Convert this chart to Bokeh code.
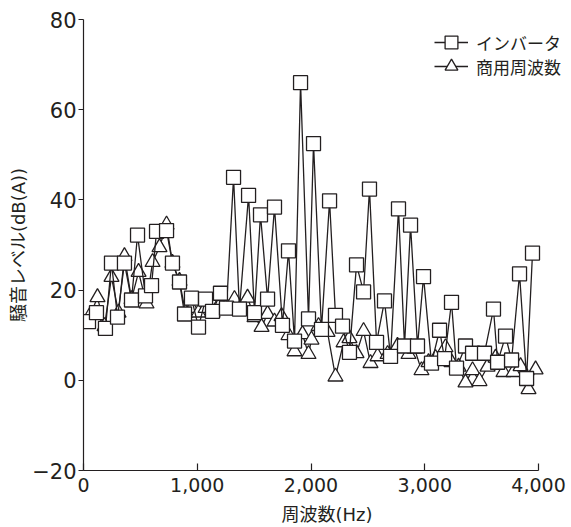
from bokeh.plotting import figure
from bokeh.models import Legend, LegendItem, FixedTicker, Range1d
from bokeh.embed import file_html
from bokeh.resources import INLINE

# インバータ (squares)
inv_hz = [44, 114, 193, 246, 299, 360, 422, 475, 545, 598, 642, 730, 782, 844, 888,
          949, 1011, 1073, 1134, 1204, 1257, 1319, 1371, 1451, 1503, 1556, 1618, 1679,
          1749, 1802, 1855, 1908, 1978, 2022, 2092, 2163, 2215, 2277, 2338, 2400, 2462,
          2514, 2576, 2646, 2699, 2769, 2822, 2875, 2936, 2989, 3059, 3130, 3174, 3235,
          3279, 3358, 3420, 3525, 3604, 3640, 3710, 3763, 3833, 3895, 3947]
inv_db = [13, 15, 11.5, 26, 14, 26, 17.8, 32.2, 18.7, 21, 33, 33.2, 26, 21.8, 14.7,
          18.2, 11.8, 18, 15.3, 19.3, 16, 45, 15.8, 41, 15, 36.7, 18, 38.4,
          12.2, 28.7, 8.7, 66, 13.6, 52.5, 11.3, 39.8, 14.4, 12, 6.2, 25.6, 19.6,
          42.4, 8.4, 17.6, 5.3, 38, 7.6, 34.4, 7.6, 23, 3.8, 11.1, 4.8, 17.3,
          2.7, 7.6, 6, 6, 15.8, 4, 9.8, 4.5, 23.6, 0.4, 28.2]

# 商用周波数 (triangles)
com_hz = [60, 123, 185, 246, 308, 360, 422, 484, 554, 607, 668, 730, 782, 844, 897,
          949, 1011, 1073, 1134, 1196, 1257, 1327, 1380, 1442, 1503, 1565, 1618, 1679,
          1741, 1802, 1855, 1925, 1978, 2004, 2066, 2145, 2215, 2286, 2338, 2400, 2462,
          2523, 2585, 2673, 2760, 2857, 2910, 2971, 3033, 3095, 3182, 3235, 3297, 3358,
          3420, 3481, 3552, 3622, 3692, 3780, 3842, 3912, 3974]
com_db = [14.5, 18.4, 12, 22.9, 15, 27.5, 18, 24, 17, 26.2, 29.5, 34.5, 26, 22, 15,
          16, 15, 16, 15, 17, 16.5, 18, 16, 18.3, 14, 11.8, 14.7, 13,
          14.2, 10, 6.4, 10.2, 5.8, 9, 12, 10.7, 0.8, 8.4, 9.3, 6, 10.9,
          3.8, 5.3, 5.8, 7.6, 5.8, 7, 2.2, 4, 4.9, 7.3, 4, 3, -0.5,
          2.2, -0.2, 3, 5, 1.8, 1.8, 3.1, -2, 2.4]

x_ticks = [0, 1000, 2000, 3000, 4000]
x_tick_labels = ["0", "1,000", "2,000", "3,000", "4,000"]
y_ticks = [-20, 0, 20, 40, 60, 80]
y_tick_labels = ["\u221220", "0", "20", "40", "60", "80"]

NUM_FONT = "DejaVu Sans"
MIX_FONT = "'DejaVu Sans', 'Noto Sans CJK JP'"
JP_FONT = "Noto Sans CJK JP"
INK = "#231f20"

# frame spans 83..570 px; 0..4000 Hz occupies 83..538 px, the rest leaves room for the legend
p = figure(width=570, height=527, x_range=Range1d(0, 4281), y_range=Range1d(-20, 80),
           output_backend="svg", toolbar_location=None,
           min_border_left=83, min_border_right=0, min_border_top=19, min_border_bottom=57)
p.outline_line_color = None
p.grid.visible = False
p.background_fill_color = "white"
p.border_fill_color = "white"

# axes
xa = p.xaxis[0]
xa.ticker = FixedTicker(ticks=x_ticks)
xa.bounds = (0, 4000)
xa.major_label_overrides = {t: l for t, l in zip(x_ticks, x_tick_labels)}
xa.major_tick_in = 7
xa.major_tick_out = 0
xa.minor_tick_line_color = None
xa.major_label_standoff = 7
xa.axis_label = "周波数(Hz)"
xa.axis_label_standoff = 9
xa.axis_label_text_font = MIX_FONT
xa.axis_label_text_font_size = "18px"
xa.axis_label_text_font_style = "normal"
xa.major_label_text_font = NUM_FONT
xa.major_label_text_font_size = "19px"

ya = p.yaxis[0]
ya.ticker = FixedTicker(ticks=y_ticks)
ya.major_label_overrides = {t: l for t, l in zip(y_ticks, y_tick_labels)}
ya.major_tick_in = 0
ya.major_tick_out = 5
ya.minor_tick_line_color = None
ya.major_label_standoff = 2
ya.axis_label = "騒音レベル(dB(A))"
ya.axis_label_standoff = 0
ya.axis_label_text_font = MIX_FONT
ya.axis_label_text_font_size = "18px"
ya.axis_label_text_font_style = "normal"
ya.major_label_text_font = NUM_FONT
ya.major_label_text_font_size = "21px"

for ax in (xa, ya):
    ax.axis_line_color = INK
    ax.major_tick_line_color = INK
    ax.axis_line_width = 1.2
    ax.major_tick_line_width = 1.2
    ax.major_label_text_color = INK
    ax.axis_label_text_color = INK

# series: triangles drawn first, squares on top
cl = p.line(com_hz, com_db, line_color=INK, line_width=1.3)
cs = p.scatter(com_hz, com_db, marker="triangle", size=15, line_color=INK,
               line_width=1.3, fill_color="white")
il = p.line(inv_hz, inv_db, line_color=INK, line_width=1.3)
isq = p.scatter(inv_hz, inv_db, marker="square", size=14, line_color=INK,
                line_width=1.3, fill_color="white")


def make_legend(label, renderers, loc):
    lg = Legend(items=[LegendItem(label=label, renderers=renderers)], location=loc)
    lg.background_fill_alpha = 0
    lg.border_line_alpha = 0
    lg.padding = 0
    lg.margin = 0
    lg.spacing = 0
    lg.glyph_width = 34
    lg.glyph_height = 32
    lg.label_standoff = 8
    lg.label_text_font = JP_FONT
    lg.label_text_font_size = "17px"
    lg.label_text_color = INK
    lg.label_height = 17
    return lg


p.add_layout(make_legend("インバータ", [il, isq], (351, 412)), "center")
p.add_layout(make_legend("商用周波数", [cl, cs], (351, 388)), "center")

open("out.html", "w").write(file_html(p, INLINE))
